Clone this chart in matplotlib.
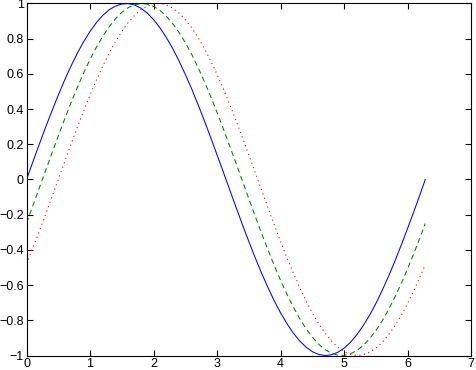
import matplotlib
matplotlib.use('Agg')
import matplotlib.pyplot as plt

plt.rcParams['font.family'] = ['Liberation Sans', 'DejaVu Sans']

x = [0.0, 0.1, 0.2, 0.3, 0.4, 0.5, 0.6, 0.7, 0.8, 0.9, 1.0, 1.1, 1.2, 1.3, 1.4, 1.5,
     1.6, 1.7, 1.8, 1.9, 2.0, 2.1, 2.2, 2.3, 2.4, 2.5, 2.6, 2.7, 2.8, 2.9, 3.0, 3.1,
     3.2, 3.3, 3.4, 3.5, 3.6, 3.7, 3.8, 3.9, 4.0, 4.1, 4.2, 4.3, 4.4, 4.5, 4.6, 4.7,
     4.8, 4.9, 5.0, 5.1, 5.2, 5.3, 5.4, 5.5, 5.6, 5.7, 5.8, 5.9, 6.0, 6.1, 6.2, 6.28]
y_blue = [0.000, 0.100, 0.199, 0.296, 0.389, 0.479, 0.565, 0.644, 0.717, 0.783, 0.841,
          0.891, 0.932, 0.964, 0.985, 0.997, 1.000, 0.992, 0.974, 0.946, 0.909, 0.863,
          0.808, 0.746, 0.675, 0.598, 0.516, 0.427, 0.335, 0.239, 0.141, 0.042, -0.058,
          -0.158, -0.256, -0.351, -0.443, -0.530, -0.612, -0.688, -0.757, -0.818,
          -0.872, -0.916, -0.952, -0.978, -0.994, -1.000, -0.996, -0.982, -0.959,
          -0.926, -0.883, -0.832, -0.773, -0.706, -0.631, -0.551, -0.465, -0.374,
          -0.279, -0.182, -0.083, 0.000]
y_green = [-0.247, -0.149, -0.050, 0.050, 0.149, 0.247, 0.343, 0.435, 0.523, 0.605,
           0.682, 0.751, 0.813, 0.867, 0.913, 0.949, 0.976, 0.993, 1.000, 0.997, 0.984,
           0.961, 0.929, 0.887, 0.837, 0.778, 0.712, 0.638, 0.558, 0.472, 0.382, 0.288,
           0.190, 0.092, -0.008, -0.108, -0.207, -0.304, -0.397, -0.487, -0.572, -0.651,
           -0.723, -0.789, -0.846, -0.895, -0.935, -0.966, -0.987, -0.998, -0.999,
           -0.991, -0.972, -0.944, -0.906, -0.859, -0.804, -0.740, -0.669, -0.592,
           -0.508, -0.420, -0.327, -0.250]
y_red = [-0.479, -0.389, -0.296, -0.199, -0.100, 0.000, 0.100, 0.199, 0.296, 0.389,
         0.479, 0.565, 0.644, 0.717, 0.783, 0.841, 0.891, 0.932, 0.964, 0.985, 0.997,
         1.000, 0.992, 0.974, 0.946, 0.909, 0.863, 0.808, 0.746, 0.675, 0.598, 0.516,
         0.427, 0.335, 0.239, 0.141, 0.042, -0.058, -0.158, -0.256, -0.351, -0.443,
         -0.530, -0.612, -0.688, -0.757, -0.818, -0.872, -0.916, -0.952, -0.978,
         -0.994, -1.000, -0.996, -0.982, -0.959, -0.926, -0.883, -0.832, -0.773,
         -0.706, -0.631, -0.551, -0.482]
yticks = [-1, -0.8, -0.6, -0.4, -0.2, 0, 0.2, 0.4, 0.6, 0.8, 1]
ylabels = ['\u22121', '\u22120.8', '\u22120.6', '\u22120.4', '\u22120.2', '0',
           '0.2', '0.4', '0.6', '0.8', '1']

fig = plt.figure(figsize=(4.76, 3.70), dpi=100)
ax = fig.add_axes([26.5 / 476, 14.5 / 370, 444.5 / 476, 352 / 370])

ax.plot(x, y_blue, color='#0000ff', lw=0.75, linestyle='-')
ax.plot(x, y_green, color='#007f00', lw=0.75, dashes=(5, 3.5))
ax.plot(x, y_red, color='#ff0000', lw=0.8, dashes=(1, 3.2))

ax.set_xlim(0, 7)
ax.set_ylim(-1, 1)
ax.set_xticks(range(8))
ax.set_yticks(yticks)
ax.set_yticklabels(ylabels)
ax.tick_params(direction='in', top=True, right=True, length=4, width=0.8,
               labelsize=9, pad=2)
for s in ax.spines.values():
    s.set_linewidth(0.8)

fig.savefig('out.png', dpi=100)
